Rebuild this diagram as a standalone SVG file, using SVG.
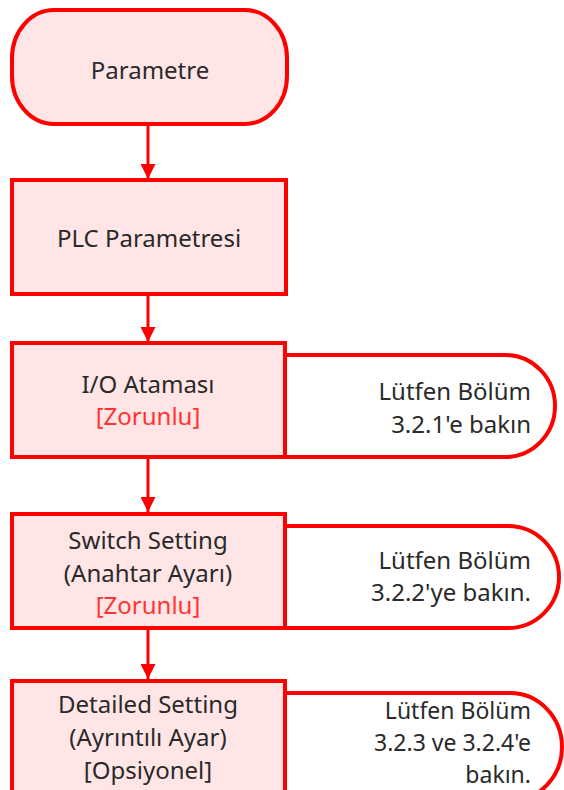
<svg xmlns="http://www.w3.org/2000/svg" width="564" height="790" viewBox="0 0 564 790">
<style>
.box{fill:#ffe5e5;stroke:#ff0000;stroke-width:4}
.side{fill:#ffffff;stroke:#ff0000;stroke-width:4}
.t{font-family:"Noto Sans","Open Sans",sans-serif;font-size:24px;fill:#2a2a2a}
.s{font-size:23px}
.c{text-anchor:middle}
.r{text-anchor:end}
.red{fill:#ff3333}
.conn{stroke:#ff0000;stroke-width:3;fill:none}
</style>
<defs>
<marker id="ah" viewBox="0 0 10 10" refX="10" refY="5" markerWidth="5" markerHeight="5" markerUnits="strokeWidth" orient="auto">
<path d="M0,0 L10,5 L0,10 z" fill="#ff0000"/>
</marker>
</defs>
<g id="connectors">
<line class="conn" x1="148" y1="124" x2="148" y2="179" marker-end="url(#ah)"/>
<line class="conn" x1="148" y1="294" x2="148" y2="342" marker-end="url(#ah)"/>
<line class="conn" x1="148" y1="457" x2="148" y2="512" marker-end="url(#ah)"/>
<line class="conn" x1="148" y1="628" x2="148" y2="679" marker-end="url(#ah)"/>
</g>
<g id="start">
<rect class="box" x="12" y="10" width="275" height="114" rx="42" ry="48"/>
<text class="t c" x="150" y="79">Parametre</text>
</g>
<g id="plc">
<rect class="box" x="12" y="180" width="274" height="114"/>
<text class="t c" x="149" y="247">PLC Parametresi</text>
</g>
<g id="io-note">
<path class="side" d="M285 355 H505 A50 51 0 0 1 505 457 H285"/>
<text class="t r" x="531" y="400">Lütfen Bölüm</text>
<text class="t r" x="531" y="433">3.2.1'e bakın</text>
</g>
<g id="io">
<rect class="box" x="12" y="343" width="273" height="114"/>
<text class="t c" x="148" y="393">I/O Ataması</text>
<text class="t c red" x="148" y="425">[Zorunlu]</text>
</g>
<g id="switch-note">
<path class="side" d="M285 526 H508 A51 51 0 0 1 508 628 H285"/>
<text class="t r" x="531" y="569">Lütfen Bölüm</text>
<text class="t r" x="531" y="601">3.2.2'ye bakın.</text>
</g>
<g id="switch">
<rect class="box" x="12" y="514" width="273" height="114"/>
<text class="t c" x="148" y="549">Switch Setting</text>
<text class="t c" x="148" y="582">(Anahtar Ayarı)</text>
<text class="t c red" x="148" y="614">[Zorunlu]</text>
</g>
<g id="detailed-note">
<path class="side" d="M285 693 H510 A52 54 0 0 1 510 801 H285"/>
<text class="t s r" x="531" y="719">Lütfen Bölüm</text>
<text class="t s r" x="531" y="751">3.2.3 ve 3.2.4'e</text>
<text class="t s r" x="531" y="783">bakın.</text>
</g>
<g id="detailed">
<rect class="box" x="12" y="681" width="273" height="120"/>
<text class="t c" x="148" y="713">Detailed Setting</text>
<text class="t c" x="148" y="746">(Ayrıntılı Ayar)</text>
<text class="t c" x="148" y="779">[Opsiyonel]</text>
</g>
</svg>
